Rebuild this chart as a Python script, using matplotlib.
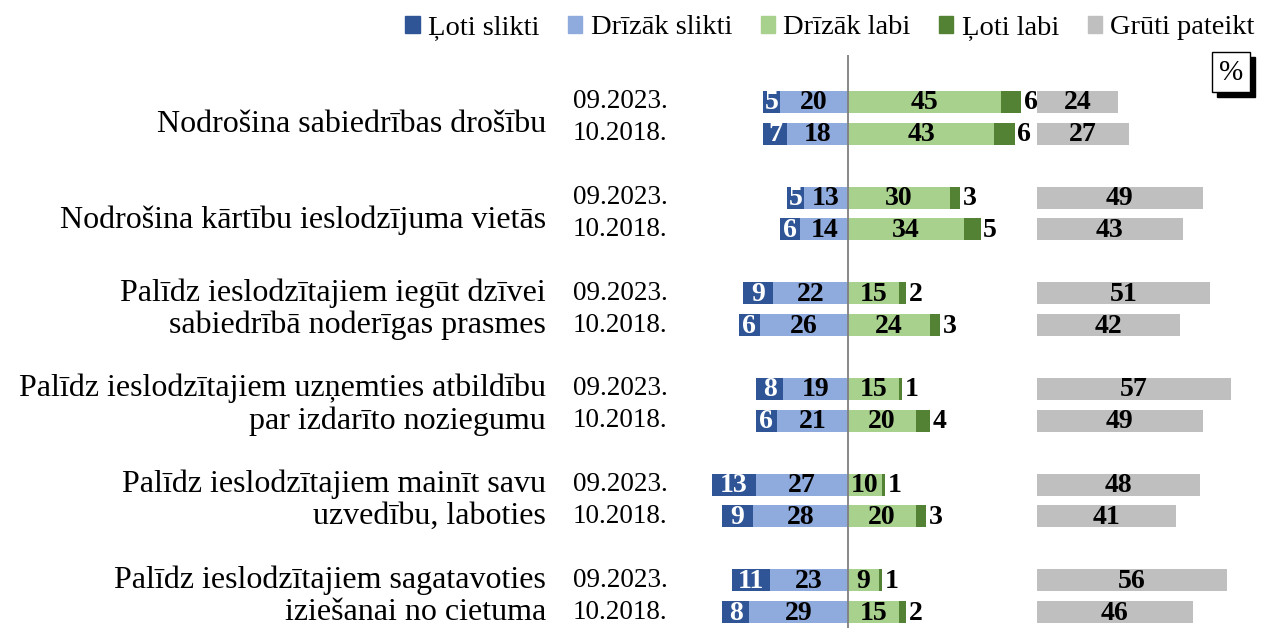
import matplotlib
matplotlib.use('Agg')
from matplotlib import pyplot as plt
from matplotlib.patches import Patch, Rectangle
from matplotlib.transforms import blended_transform_factory
import numpy as np

plt.rcParams['font.family'] = ['Liberation Serif', 'DejaVu Serif']

categories = ['Nodrošina sabiedrības drošību',
              'Nodrošina kārtību ieslodzījuma vietās',
              'Palīdz ieslodzītajiem iegūt dzīvei\nsabiedrībā noderīgas prasmes',
              'Palīdz ieslodzītajiem uzņemties atbildību\npar izdarīto noziegumu',
              'Palīdz ieslodzītajiem mainīt savu\nuzvedību, laboties',
              'Palīdz ieslodzītajiem sagatavoties\niziešanai no cietuma']
periods = ['09.2023.', '10.2018.']
series = ['Ļoti slikti', 'Drīzāk slikti', 'Drīzāk labi', 'Ļoti labi', 'Grūti pateikt']

# katrai kategorijai: [09.2023, 10.2018]
loti_slikti   = [[5, 7], [5, 6], [9, 6], [8, 6], [13, 9], [11, 8]]
drizak_slikti = [[20, 18], [13, 14], [22, 26], [19, 21], [27, 28], [23, 29]]
drizak_labi   = [[45, 43], [30, 34], [15, 24], [15, 20], [10, 20], [9, 15]]
loti_labi     = [[6, 6], [3, 5], [2, 3], [1, 4], [1, 3], [1, 2]]
gruti         = [[24, 27], [49, 43], [51, 42], [57, 49], [48, 41], [56, 46]]

colors = ['#2F5597', '#8FAADC', '#A9D18E', '#548235', '#BFBFBF']
GRAY_START = 55.5
W, H = 1269, 628

fig = plt.figure(figsize=(W / 100, H / 100), dpi=100)
# 3.4 px uz vienību, centrs pie x=848
x0, x1 = -60, 123
ax_l = 848 + x0 * 3.4
ax_r = 848 + x1 * 3.4
ax = fig.add_axes([ax_l / W, 0, (ax_r - ax_l) / W, (H - 55) / H])
ax.set_xlim(x0, x1)
ax.set_ylim(16.5, -1.47)
ax.axis('off')

bh = 0.69
fs = 20
for g in range(len(categories)):
    for r in range(2):
        y = 3 * g + r
        a, b = loti_slikti[g][r], drizak_slikti[g][r]
        c, d = drizak_labi[g][r], loti_labi[g][r]
        e = gruti[g][r]
        ax.barh(y, -a, left=-b, height=bh, color=colors[0])
        ax.barh(y, -b, height=bh, color=colors[1])
        ax.barh(y, c, height=bh, color=colors[2])
        ax.barh(y, d, left=c, height=bh, color=colors[3])
        ax.barh(y, e, left=GRAY_START, height=bh, color=colors[4])
        ax.text(-b - a / 2, y + 0.03, str(a), ha='center', va='center', color='white',
                fontsize=fs, fontweight='bold')
        ax.text(-b / 2, y + 0.03, str(b), ha='center', va='center', fontsize=fs, fontweight='bold')
        ax.text(c / 2, y + 0.03, str(c), ha='center', va='center', fontsize=fs, fontweight='bold')
        ax.text(c + d + 2.8, y + 0.03, str(d), ha='center', va='center', fontsize=fs,
                fontweight='bold')
        ax.text(GRAY_START + e / 2, y + 0.03, str(e), ha='center', va='center', fontsize=fs,
                fontweight='bold')

ax.axvline(0, color='#7F7F7F', lw=1.3, zorder=5)

tr = blended_transform_factory(fig.transFigure, ax.transData)
for g, cat in enumerate(categories):
    off = 0.5 + (0.0 if '\n' in cat else 0.22)
    ax.text(546 / W, 3 * g + off, cat, transform=tr, ha='right', va='center',
            fontsize=23, linespacing=1.12)
    for r, p in enumerate(periods):
        ax.text(620 / W, 3 * g + r, p, transform=tr, ha='center', va='center', fontsize=19.5)

handles = [Patch(color=c) for c in colors]
fig.legend(handles, series, loc='center right', bbox_to_anchor=(1.0, 1 - 28 / H),
           ncol=5, frameon=False, fontsize=20.5, handlelength=0.5, handleheight=0.5,
           handletextpad=0.3, columnspacing=1.0, borderaxespad=0.1)

# % lodziņš ar ēnu
fig.patches.append(Rectangle((1217 / W, 1 - 97 / H), 38 / W, 40 / H, transform=fig.transFigure,
                             facecolor='black', edgecolor='black'))
fig.patches.append(Rectangle((1212 / W, 1 - 92 / H), 38 / W, 40 / H, transform=fig.transFigure,
                             facecolor='white', edgecolor='black', lw=1))
fig.text(1231 / W, 1 - 73 / H, '%', ha='center', va='center', fontsize=21)

fig.savefig('out.png', dpi=100)
